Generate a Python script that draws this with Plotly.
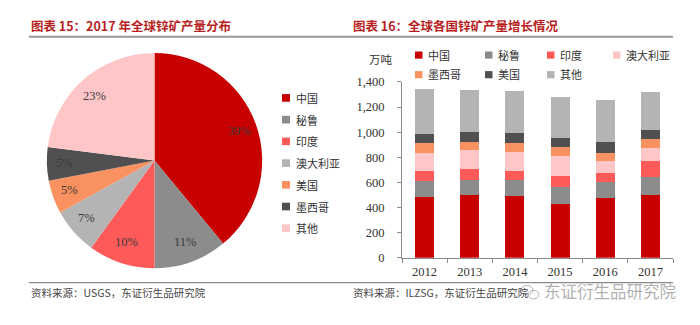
import math
import plotly.graph_objects as go

W, H = 700, 325

# 2017 zinc ore output share by country (%)
pie_labels = ["中国", "秘鲁", "印度", "澳大利亚", "美国", "墨西哥", "其他"]
pie_shares = [39, 11, 10, 7, 5, 5, 23]
pie_colors = ["#C80000", "#8C8C8C", "#FF5A5A", "#B4B4B4", "#FA9160", "#505050", "#FFC6C8"]

# Zinc ore output by country, 万吨
years = ["2012", "2013", "2014", "2015", "2016", "2017"]
china = [483, 498, 491, 425, 476, 503]
peru = [127, 124, 124, 139, 124, 137]
india = [81, 81, 76, 84, 78, 132]
australia = [144, 152, 151, 159, 96, 98]
mexico = [76, 66, 74, 71, 63, 74]
usa = [71, 78, 76, 78, 84, 73]
others = [364, 339, 339, 324, 339, 301]

bar_names = ["中国", "秘鲁", "印度", "澳大利亚", "墨西哥", "美国", "其他"]
bar_series = [china, peru, india, australia, mexico, usa, others]
bar_colors = ["#C80000", "#8C8C8C", "#FF5A5A", "#FFC6C8", "#FA9160", "#505050", "#B4B4B4"]

SERIF = "Liberation Serif"
CJK = "Noto Sans CJK SC"

# pie placement in pixels
PIE_L, PIE_R, PIE_T, PIE_B = 42, 267, 48, 273


def px(x):
    return x / W


def py(y):
    return 1 - y / H


fig = go.Figure()

fig.add_trace(go.Pie(
    labels=pie_labels,
    values=pie_shares,
    textinfo="none",
    marker=dict(colors=pie_colors, line=dict(width=0)),
    sort=False,
    direction="clockwise",
    rotation=0,
    hole=0,
    showlegend=False,
    domain=dict(x=[px(PIE_L), px(PIE_R)], y=[py(PIE_B), py(PIE_T)]),
))

for name, vals, col in zip(bar_names, bar_series, bar_colors):
    fig.add_trace(go.Bar(
        x=years, y=vals, name=name,
        marker=dict(color=col, line=dict(width=0)),
        showlegend=False,
        xaxis="x", yaxis="y",
    ))

shapes = []
annotations = []

# percentage labels placed along each slice's mid-angle
cx, cy = (PIE_L + PIE_R) / 2, (PIE_T + PIE_B) / 2
rad = (PIE_R - PIE_L) / 2
total = sum(pie_shares)
acc = 0
for v in pie_shares:
    mid = (acc + v / 2) / total * 2 * math.pi
    acc += v
    lx = cx + 0.8 * rad * math.sin(mid)
    ly = cy - 0.8 * rad * math.cos(mid)
    annotations.append(dict(xref="paper", yref="paper", x=px(lx), y=py(ly),
                            xanchor="center", yanchor="middle", showarrow=False,
                            text=f"{v}%",
                            font=dict(family=SERIF, size=12.5, color="#3a3a3a")))

# rules under the headings and above the source notes
shapes.append(dict(type="line", xref="paper", yref="paper",
                   x0=px(29), x1=px(673), y0=py(31), y1=py(31),
                   line=dict(color="#9a9a9a", width=2)))
shapes.append(dict(type="line", xref="paper", yref="paper",
                   x0=px(29), x1=px(673), y0=py(288), y1=py(288),
                   line=dict(color="#8a8a8a", width=1.2)))

# headings
for x0, txt in [(29, "图表 15：2017 年全球锌矿产量分布"), (351, "图表 16：全球各国锌矿产量增长情况")]:
    annotations.append(dict(xref="paper", yref="paper", x=px(x0), y=py(19),
                            xanchor="left", yanchor="middle", showarrow=False,
                            text=f"<b>{txt}</b>",
                            font=dict(family=CJK, size=12.5, color="#B81E1E")))

# source notes
for x0, txt in [(29, "资料来源：USGS，东证衍生品研究院"), (351, "资料来源：ILZSG，东证衍生品研究院")]:
    annotations.append(dict(xref="paper", yref="paper", x=px(x0), y=py(298),
                            xanchor="left", yanchor="middle", showarrow=False,
                            text=txt, font=dict(family=CJK, size=10.5, color="#444444")))

# account mark
annotations.append(dict(xref="paper", yref="paper", x=px(542), y=py(297),
                        xanchor="left", yanchor="middle", showarrow=False,
                        text="东证衍生品研究院",
                        font=dict(family=CJK, size=16.5, color="rgba(150,150,150,0.75)")))
shapes.append(dict(type="circle", xref="paper", yref="paper",
                   x0=px(521), x1=px(533), y0=py(301), y1=py(291),
                   line=dict(color="rgba(150,150,150,0.7)", width=1)))
shapes.append(dict(type="circle", xref="paper", yref="paper",
                   x0=px(528), x1=px(539), y0=py(305), y1=py(296),
                   line=dict(color="rgba(150,150,150,0.7)", width=1)))

# pie legend
for i, (name, col) in enumerate(zip(pie_labels, pie_colors)):
    yc = 95 + i * 22.7
    shapes.append(dict(type="rect", xref="paper", yref="paper",
                       x0=px(282), x1=px(290), y0=py(yc + 4), y1=py(yc - 4),
                       fillcolor=col, line=dict(width=0)))
    annotations.append(dict(xref="paper", yref="paper", x=px(294), y=py(yc),
                            xanchor="left", yanchor="middle", showarrow=False,
                            text=name, font=dict(family=CJK, size=11, color="#333333")))

# bar legend
legend_pos = [(415, 50), (485, 50), (547, 50), (613, 50), (415, 70.5), (485, 70.5), (547, 70.5)]
for (x0, yc), name, col in zip(legend_pos, bar_names, bar_colors):
    shapes.append(dict(type="rect", xref="paper", yref="paper",
                       x0=px(x0), x1=px(x0 + 7.5), y0=py(yc + 4), y1=py(yc - 3.5),
                       fillcolor=col, line=dict(width=0)))
    annotations.append(dict(xref="paper", yref="paper", x=px(x0 + 11), y=py(yc),
                            xanchor="left", yanchor="middle", showarrow=False,
                            text=name, font=dict(family=CJK, size=11, color="#333333")))

# unit label
annotations.append(dict(xref="paper", yref="paper", x=px(381), y=py(54),
                        xanchor="center", yanchor="middle", showarrow=False,
                        text="万吨", font=dict(family=CJK, size=11.5, color="#333333")))

fig.update_layout(
    width=W, height=H,
    margin=dict(l=0, r=0, t=0, b=0),
    paper_bgcolor="white", plot_bgcolor="white",
    barmode="stack", bargap=0.58,
    shapes=shapes, annotations=annotations,
    xaxis=dict(domain=[px(402), px(673)], anchor="y",
               type="category", showgrid=False, zeroline=False,
               showline=True, linecolor="#8a8a8a", linewidth=1,
               ticks="outside", tickson="boundaries", ticklen=4, tickcolor="#8a8a8a",
               tickfont=dict(family=SERIF, size=12.5, color="#333333"),
               ticklabelstandoff=2),
    yaxis=dict(domain=[py(262), py(78.3)], anchor="x",
               range=[0, 1400], tickvals=list(range(0, 1401, 200)),
               tickformat=",", showgrid=False, zeroline=False,
               showline=True, linecolor="#8a8a8a", linewidth=1,
               ticks="outside", ticklen=4, tickcolor="#8a8a8a",
               tickfont=dict(family=SERIF, size=12.5, color="#333333"),
               ticklabelstandoff=10),
)

fig.write_html("out.html")
